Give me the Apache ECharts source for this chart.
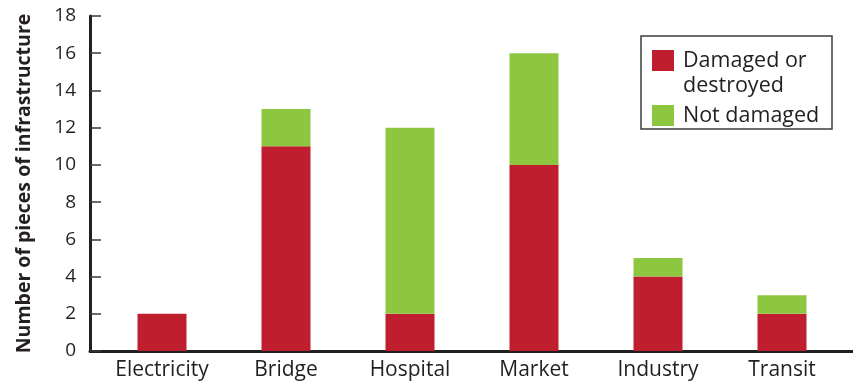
<!DOCTYPE html>
<html>
<head>
<meta charset="utf-8">
<script src="https://cdn.jsdelivr.net/npm/echarts@6/dist/echarts.min.js"></script>
<style>
html,body{margin:0;padding:0;background:#fff;}
#c{width:853px;height:384px;}
</style>
</head>
<body>
<div id="c"></div>
<script>
const categories = ['Electricity', 'Bridge', 'Hospital', 'Market', 'Industry', 'Transit'];
const damaged = [2, 11, 2, 10, 4, 2];
const notDamaged = [0, 2, 10, 6, 1, 1];
const seriesNames = ['Damaged or\ndestroyed', 'Not damaged'];
const yTicks = { min: 0, max: 18, interval: 2 };
const yTitle = 'Number of pieces of infrastructure';

const RED = '#be1e2d';
const GREEN = '#8dc63f';
const INK = '#231f20';
const FONT = '"Open Sans", "Noto Sans", sans-serif';

const chart = echarts.init(document.getElementById('c'), null, { renderer: 'canvas' });
chart.setOption({
  animation: false,
  backgroundColor: '#fff',
  textStyle: { fontFamily: FONT },
  grid: [
    { left: 100, right: 9, top: 16, bottom: 33 },
    { left: 90, right: 0, top: 16, bottom: 33 }
  ],
  xAxis: [
    {
      type: 'category', gridIndex: 0, data: categories,
      axisLine: { show: false },
      axisTick: { show: false },
      axisLabel: { color: INK, fontSize: 21, fontFamily: FONT, margin: 9 }
    },
    {
      type: 'value', gridIndex: 1, min: 0, max: 1,
      axisLine: { show: true, lineStyle: { color: INK, width: 3 } },
      axisTick: { show: false }, axisLabel: { show: false }, splitLine: { show: false }
    }
  ],
  yAxis: [
    {
      type: 'value', gridIndex: 0, min: yTicks.min, max: yTicks.max, interval: yTicks.interval,
      offset: 10,
      name: yTitle, nameLocation: 'middle', nameGap: 56,
      nameTextStyle: { color: INK, fontSize: 19.5, fontWeight: 'bold', fontFamily: FONT },
      axisLine: { show: true, lineStyle: { color: INK, width: 3 } },
      axisTick: { show: true, inside: true, length: 11, lineStyle: { color: '#3a3a3a', width: 1.5 } },
      axisLabel: { color: INK, fontSize: 19, fontFamily: FONT, margin: 14 },
      splitLine: { show: false }
    },
    {
      type: 'value', gridIndex: 1, show: false, min: 0, max: 1
    }
  ],
  legend: {
    orient: 'vertical', left: 652, top: 23, padding: 0,
    itemWidth: 22, itemHeight: 21, itemGap: 5,
    icon: 'rect',
    formatter: function (name) { return name.indexOf('\n') >= 0 ? '\n' + name : name; },
    textStyle: { color: INK, fontSize: 21.5, lineHeight: 25, fontFamily: FONT, padding: [0, 0, 0, 4] },
    data: seriesNames
  },
  graphic: [{
    type: 'rect', z: 0,
    shape: { x: 641, y: 36, width: 191, height: 93 },
    style: { fill: '#fff', stroke: '#3c3c3c', lineWidth: 1.5 }
  }],
  series: [
    {
      name: seriesNames[0], type: 'bar', stack: 'a', data: damaged,
      xAxisIndex: 0, yAxisIndex: 0,
      barWidth: 49, itemStyle: { color: RED }
    },
    {
      name: seriesNames[1], type: 'bar', stack: 'a', data: notDamaged,
      xAxisIndex: 0, yAxisIndex: 0,
      barWidth: 49, itemStyle: { color: GREEN }
    }
  ]
});
</script>
</body>
</html>
